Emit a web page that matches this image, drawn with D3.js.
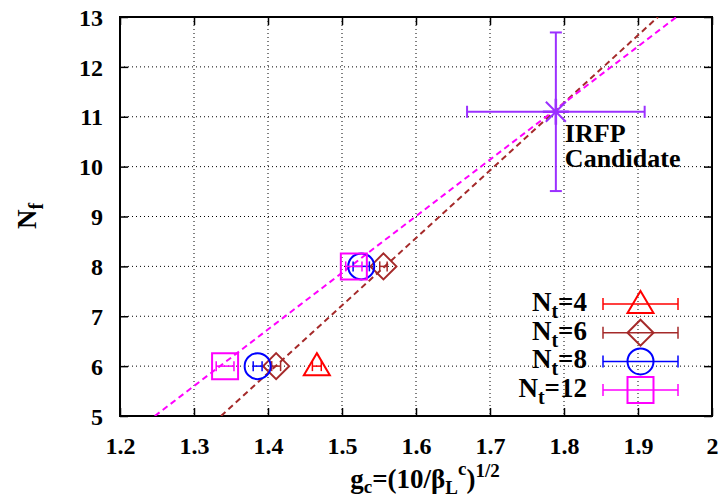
<!DOCTYPE html>
<html>
<head>
<meta charset="utf-8">
<script src="https://cdn.jsdelivr.net/npm/d3@7"></script>
<style>
  body { margin: 0; background: #fff; }
</style>
</head>
<body>
<svg id="chart" width="719" height="499"></svg>
<script>
// Critical couplings g_c for each temporal extent N_t, at N_f = 6 and 8
const seriesNames = ["N_t=4", "N_t=6", "N_t=8", "N_t=12"];
const seriesColors = ["#ff0000", "#a52a2a", "#0000ff", "#ff00ff"];
const seriesSymbols = ["triangle", "diamond", "circle", "square"];
const nfValues = [[6], [6, 8], [6, 8], [6, 8]];
const gcValues = [[1.466], [1.411, 1.556], [1.386, 1.526], [1.342, 1.516]];
const gcErrors = [[0.006], [0.006, 0.005], [0.006, 0.011], [0.012, 0.011]];

// Linear extrapolations (N_t=6 and N_t=12), given by two points each
const fitColors = ["#a52a2a", "#ff00ff"];
const fitGc = [[1.3365, 1.927], [1.247, 1.952]];
const fitNf = [[5, 13], [5, 13]];

// IRFP candidate with errors in both directions
const irfpGc = 1.789, irfpGcErr = 0.12;
const irfpNf = 11.1, irfpNfErr = 1.59;
const irfpColor = "#9b30ff";

const xTicks = [1.2, 1.3, 1.4, 1.5, 1.6, 1.7, 1.8, 1.9, 2.0];
const yTicks = [5, 6, 7, 8, 9, 10, 11, 12, 13];

const svg = d3.select("#chart");
const L = 120, R = 712, T = 17, B = 416;
const x = d3.scaleLinear().domain([1.2, 2.0]).range([L, R]);
const y = d3.scaleLinear().domain([5, 13]).range([B, T]);

// grid
const grid = svg.append("g").attr("stroke", "#000").attr("stroke-width", 1).attr("stroke-dasharray", "1,3");
xTicks.slice(1, -1).forEach(t => grid.append("line").attr("x1", x(t)).attr("x2", x(t)).attr("y1", T).attr("y2", B));
yTicks.slice(1, -1).forEach(t => grid.append("line").attr("x1", L).attr("x2", R).attr("y1", y(t)).attr("y2", y(t)));

// axes with inward ticks, mirrored
const tickFmt = d => (d === 2 ? "2" : d3.format(".1f")(d));
const axB = svg.append("g").attr("transform", `translate(0,${B})`)
  .call(d3.axisBottom(x).tickValues(xTicks).tickFormat(tickFmt).tickSizeInner(-8).tickSizeOuter(0).tickPadding(21));
const axT = svg.append("g").attr("transform", `translate(0,${T})`)
  .call(d3.axisTop(x).tickValues(xTicks).tickFormat("").tickSizeInner(-8).tickSizeOuter(0));
const axL = svg.append("g").attr("transform", `translate(${L},0)`)
  .call(d3.axisLeft(y).tickValues(yTicks).tickFormat(d3.format("d")).tickSizeInner(-8).tickSizeOuter(0).tickPadding(17));
const axR = svg.append("g").attr("transform", `translate(${R},0)`)
  .call(d3.axisRight(y).tickValues(yTicks).tickFormat("").tickSizeInner(-8).tickSizeOuter(0));
[axB, axT, axL, axR].forEach(a => {
  a.select(".domain").remove();
  a.selectAll(".tick line").attr("stroke", "#000").attr("stroke-width", 1.5);
  a.selectAll("text").style("font-size", "24px").attr("fill", "#000");
});
axB.selectAll("text").attr("dy", "0.71em");
axL.selectAll("text").attr("dy", "0.34em");

// frame
svg.append("rect").attr("x", L).attr("y", T).attr("width", R - L).attr("height", B - T)
  .attr("fill", "none").attr("stroke", "#000").attr("stroke-width", 2);

// clip for fit lines
svg.append("clipPath").attr("id", "plotclip").append("rect")
  .attr("x", L).attr("y", T).attr("width", R - L).attr("height", B - T);

// fit lines
const fits = svg.append("g").attr("clip-path", "url(#plotclip)");
fitGc.forEach((g, i) => {
  fits.append("line")
    .attr("x1", x(g[0])).attr("y1", y(fitNf[i][0]))
    .attr("x2", x(g[1])).attr("y2", y(fitNf[i][1]))
    .attr("stroke", fitColors[i]).attr("stroke-width", 2).attr("stroke-dasharray", "6,4");
});

// marker drawing
const MS = 13;
function symbolPath(kind, cx, cy) {
  if (kind === "triangle") return `M${cx},${cy - MS}L${cx + MS},${cy + MS * 0.7}L${cx - MS},${cy + MS * 0.7}Z`;
  if (kind === "diamond") return `M${cx},${cy - MS}L${cx + MS},${cy}L${cx},${cy + MS}L${cx - MS},${cy}Z`;
  if (kind === "square") return `M${cx - MS},${cy - MS}H${cx + MS}V${cy + MS}H${cx - MS}Z`;
  return null;
}
function drawMarker(g, kind, cx, cy, color) {
  if (kind === "circle") {
    g.append("circle").attr("cx", cx).attr("cy", cy).attr("r", MS)
      .attr("fill", "none").attr("stroke", color).attr("stroke-width", 2);
  } else {
    g.append("path").attr("d", symbolPath(kind, cx, cy))
      .attr("fill", "none").attr("stroke", color).attr("stroke-width", 2);
  }
}
function drawXErr(g, x0, x1, cy, color, cap) {
  g.append("line").attr("x1", x0).attr("x2", x1).attr("y1", cy).attr("y2", cy).attr("stroke", color).attr("stroke-width", 1.5);
  [x0, x1].forEach(xx => g.append("line").attr("x1", xx).attr("x2", xx).attr("y1", cy - cap).attr("y2", cy + cap)
    .attr("stroke", color).attr("stroke-width", 1.5));
}

// data points
const pts = svg.append("g");
seriesNames.forEach((name, i) => {
  gcValues[i].forEach((g, j) => {
    const cy = y(nfValues[i][j]);
    drawXErr(pts, x(g - gcErrors[i][j]), x(g + gcErrors[i][j]), cy, seriesColors[i], 5);
    drawMarker(pts, seriesSymbols[i], x(g), cy, seriesColors[i]);
  });
});

// IRFP candidate
const ir = svg.append("g").attr("stroke", irfpColor).attr("stroke-width", 2);
const icx = x(irfpGc), icy = y(irfpNf);
ir.append("line").attr("x1", x(irfpGc - irfpGcErr)).attr("x2", x(irfpGc + irfpGcErr)).attr("y1", icy).attr("y2", icy);
[irfpGc - irfpGcErr, irfpGc + irfpGcErr].forEach(v => ir.append("line")
  .attr("x1", x(v)).attr("x2", x(v)).attr("y1", icy - 6).attr("y2", icy + 6));
ir.append("line").attr("x1", icx).attr("x2", icx).attr("y1", y(irfpNf + irfpNfErr)).attr("y2", y(irfpNf - irfpNfErr));
[irfpNf + irfpNfErr, irfpNf - irfpNfErr].forEach(v => ir.append("line")
  .attr("x1", icx - 6).attr("x2", icx + 6).attr("y1", y(v)).attr("y2", y(v)));
const s = 10;
ir.append("line").attr("x1", icx - s).attr("x2", icx + s).attr("y1", icy - s).attr("y2", icy + s);
ir.append("line").attr("x1", icx - s).attr("x2", icx + s).attr("y1", icy + s).attr("y2", icy - s);
ir.append("line").attr("x1", icx - s * 1.3).attr("x2", icx + s * 1.3).attr("y1", icy).attr("y2", icy).attr("stroke-width", 2.5);
ir.append("line").attr("x1", icx).attr("x2", icx).attr("y1", icy - s * 1.3).attr("y2", icy + s * 1.3).attr("stroke-width", 2.5);

svg.append("text").attr("x", icx + 9).attr("y", icy + 30).style("font-size", "26px").attr("fill", "#000").text("IRFP");
svg.append("text").attr("x", icx + 9).attr("y", icy + 55).style("font-size", "26px").attr("fill", "#000").text("Candidate");

// legend
const leg = svg.append("g");
seriesNames.forEach((name, i) => {
  const cy = 304 + i * 28.7;
  const parts = name.split("=");
  const t = leg.append("text").attr("x", 587).attr("y", cy + 7).attr("text-anchor", "end")
    .style("font-size", "27px").attr("fill", "#000");
  t.append("tspan").text(parts[0].split("_")[0]);
  t.append("tspan").style("font-size", "20px").attr("dy", 7).text(parts[0].split("_")[1]);
  t.append("tspan").attr("dy", -7).text("=" + parts[1]);
  drawXErr(leg, 603, 678, cy, seriesColors[i], 6);
  drawMarker(leg, seriesSymbols[i], 640.5, cy, seriesColors[i]);
});

// axis titles
const xt = svg.append("text").attr("x", 425).attr("y", 488).attr("text-anchor", "middle")
  .style("font-size", "27px").attr("fill", "#000");
xt.append("tspan").text("g");
xt.append("tspan").style("font-size", "19px").attr("dy", 5).text("c");
xt.append("tspan").attr("dy", -5).text("=(10/β");
xt.append("tspan").style("font-size", "19px").attr("dy", 6).text("L");
xt.append("tspan").style("font-size", "19px").attr("dy", -19).text("c");
xt.append("tspan").attr("dy", 13).text(")");
xt.append("tspan").style("font-size", "19px").attr("dy", -11).text("1/2");

const yt = svg.append("text").attr("transform", "translate(36,216) rotate(-90)").attr("text-anchor", "middle")
  .style("font-size", "27px").attr("fill", "#000");
yt.append("tspan").text("N");
yt.append("tspan").style("font-size", "20px").attr("dy", 7).text("f");

// every label is set in bold Liberation Serif
svg.selectAll("text").style("font-family", "'Liberation Serif'").style("font-weight", "bold");
</script>
</body>
</html>
